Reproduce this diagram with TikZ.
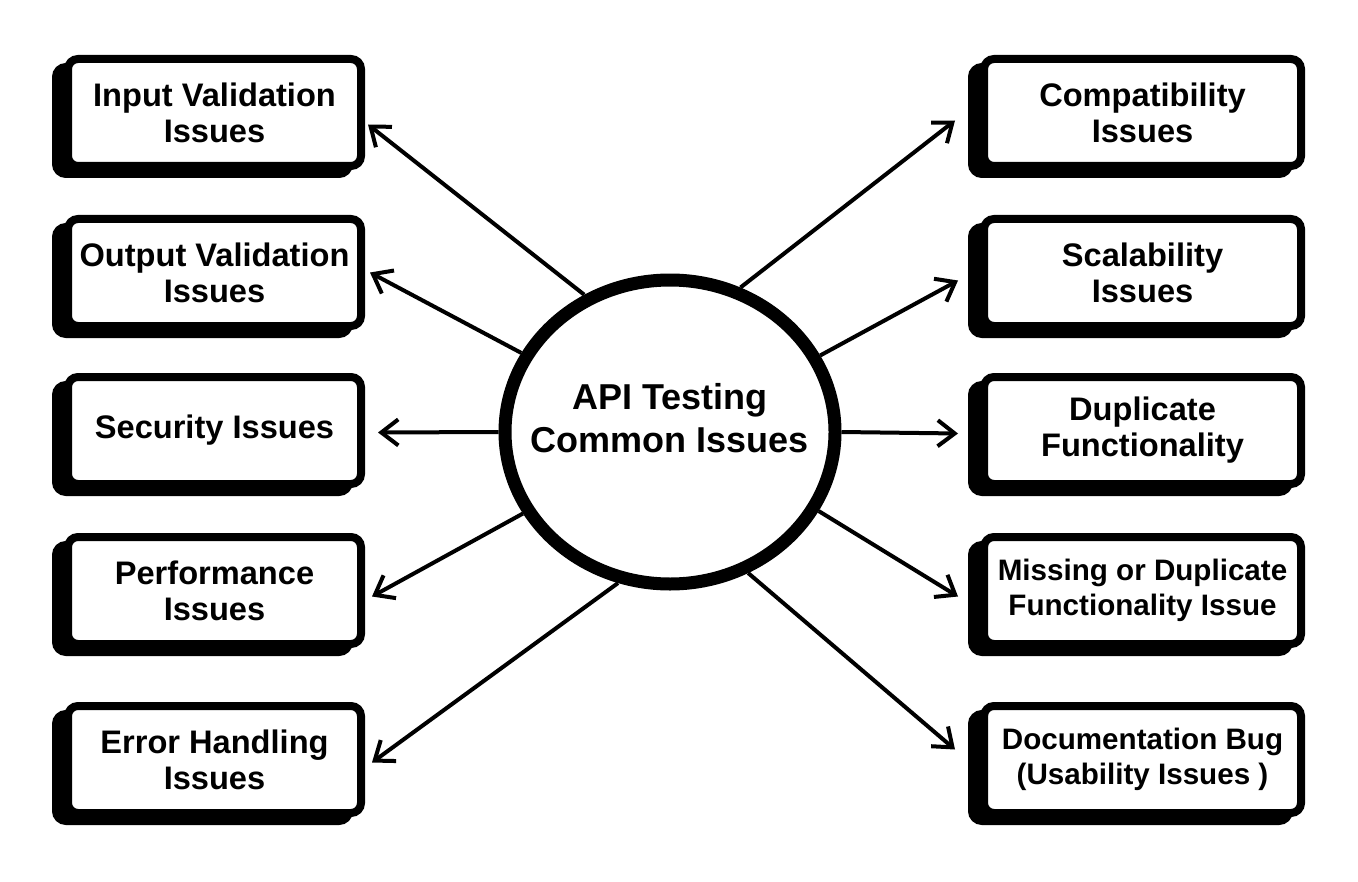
\documentclass[tikz,border=0pt]{standalone}
\usepackage{fontspec}
\setmainfont{Liberation Sans}
\usetikzlibrary{arrows.meta, shapes.geometric, shadows}

\begin{document}
\begin{tikzpicture} [x=0.5pt, y=-0.5pt, align=center,
  font=\bfseries\fontsize{16.3}{18}\selectfont,
  box/.style={draw, line width=4pt, rounded corners=5pt, fill=white, inner xsep=2pt, minimum height=53.5pt,
    drop shadow={shadow xshift=-6pt, shadow yshift=-4pt, opacity=1, fill=black, draw=black, line width=4pt}},
  lbox/.style={box, minimum width=146.5pt},
  rbox/.style={box, minimum width=158.5pt},
  tight/.style={font=\bfseries\fontsize{14.8}{17.5}\selectfont},
  hub/.style={ellipse, draw, line width=6.5pt, fill=white, minimum width=165pt, minimum height=152pt},
  arr/.style={line width=2pt, -{Straight Barb[length=8.5pt, width=13pt]}}]
\useasboundingbox (0,0) rectangle (1358,882);

\path (670,432) node[hub] (hub) {}
(670,418) node[font=\bfseries\fontsize{18}{21.5}\selectfont] (title) {API Testing\\Common Issues}

(214.5,112.5) node[lbox] (l1) {Input Validation\\Issues}
(214.5,272.5) node[lbox] (l2) {Output Validation\\Issues}
(214.5,430.5) node[lbox] (l3) {Security Issues}
(214.5,590.5) node[lbox] (l4) {Performance\\Issues}
(214.5,759.5) node[lbox] (l5) {Error Handling\\Issues}

(1142.5,112.5) node[rbox] (r1) {Compatibility\\Issues}
(1142.5,272.5) node[rbox] (r2) {Scalability\\Issues}
(1142.5,430.5) node[rbox] (r3) {Duplicate\\Functionality}
(1142.5,590.5) node[rbox, tight] (r4) {Missing or Duplicate\\Functionality Issue}
(1142.5,759.5) node[rbox, tight] (r5) {Documentation Bug\\(Usability Issues )};

\draw[arr] (hub.122.5) -- ([shift={(3,12)}]l1.east);
\draw[arr] (hub.152.5) -- ([shift={(5,0)}]l2.east);
\draw[arr] (hub.180) -- ([shift={(13,2)}]l3.east);
\draw[arr] (hub.209.4) -- ([shift={(7,6)}]l4.east);
\draw[arr] (hub.251.7) -- ([shift={(7,3)}]l5.east);

\draw[arr] (hub.64.5) -- ([shift={(-25,8)}]r1.west);
\draw[arr] (hub.27.8) -- ([shift={(-22,8)}]r2.west);
\draw[arr] (hub.0) -- ([shift={(-22,3)}]r3.west);
\draw[arr] (hub.332.5) -- ([shift={(-22,6)}]r4.west);
\draw[arr] (hub.299.7) -- ([shift={(-25,-10)}]r5.west);
\end{tikzpicture}
\end{document}
